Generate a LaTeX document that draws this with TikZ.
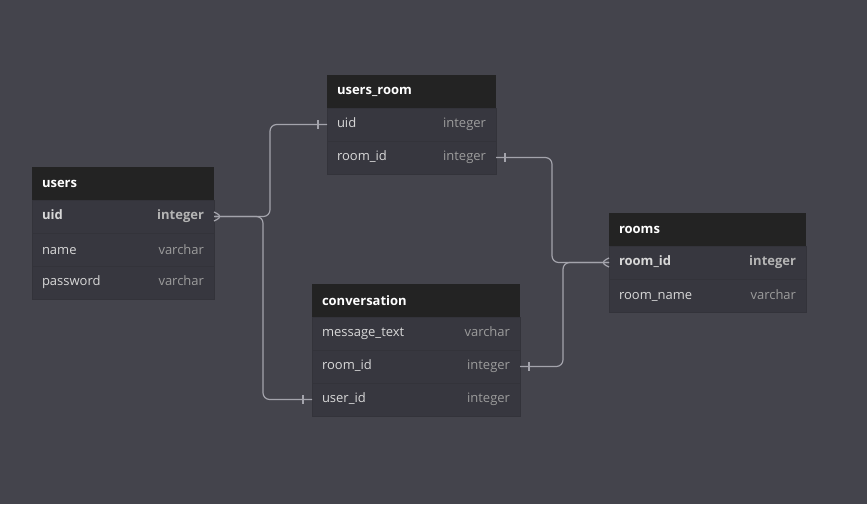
\documentclass[tikz,border=0pt]{standalone}
\usepackage{fontspec}
\setmainfont{Open Sans}
\usepackage{xcolor}
\definecolor{DiagBack}{HTML}{44444C}
\definecolor{HeadBack}{HTML}{232323}
\definecolor{RowBack}{HTML}{37373F}
\definecolor{RowLine}{HTML}{33333A}
\definecolor{ColName}{HTML}{D8D8D8}
\definecolor{ColType}{HTML}{9C9C9C}
\definecolor{KeyType}{HTML}{B4B4B4}
\definecolor{LinkGray}{HTML}{A4A4AC}
\usepackage{tikz}
\usetikzlibrary{positioning}

\begin{document}
\begin{tikzpicture}[x=0.75pt,y=-0.75pt,
	tblhead/.style={anchor=north west,fill=HeadBack,text=white,font=\fontsize{9.75}{11}\selectfont\bfseries,
		text width=#1,minimum height=24.75pt,inner xsep=7.5pt,inner ysep=0pt,outer sep=0pt},
	tblrow/.style={fill=RowBack,draw=RowLine,line width=0.6pt,font=\fontsize{9.75}{11}\selectfont,
		text width=#1,minimum height=24.75pt,inner xsep=7.5pt,inner ysep=0pt,outer sep=0pt},
	keyrow/.style={tblrow=#1,font=\fontsize{9.75}{11}\selectfont\bfseries},
	link/.style={draw=LinkGray,line width=0.9pt,rounded corners=5pt},
	one/.pic={\draw[link] (-9,-4.5) -- (-9,4.5);},
	many/.pic={\draw[link] (0,-4.5) -- (9,0) -- (0,4.5);}
	]
	% background, fixes the page size
	\fill[DiagBack] (0,0) rectangle (867,504);
	\useasboundingbox (0,0) rectangle (867,504);
	
	% users
	\node[tblhead=121.5pt] (users) at (32,167) {users};
	\node[keyrow=121.5pt,below=0pt of users] (users-uid) {\color{ColName}uid\hfill\color{KeyType}integer};
	\node[tblrow=121.5pt,below=0pt of users-uid] (users-name) {\color{ColName}name\hfill\color{ColType}varchar};
	\node[tblrow=121.5pt,below=0pt of users-name] (users-pw) {\color{ColName}password\hfill\color{ColType}varchar};
	
	% users_room
	\node[tblhead=111.75pt] (usersroom) at (327,75) {users\_room};
	\node[tblrow=111.75pt,below=0pt of usersroom] (usersroom-uid) {\color{ColName}uid\hfill\color{ColType}integer};
	\node[tblrow=111.75pt,below=0pt of usersroom-uid] (usersroom-rid) {\color{ColName}room\_id\hfill\color{ColType}integer};
	
	% conversation
	\node[tblhead=141pt] (conv) at (312,284) {conversation};
	\node[tblrow=141pt,below=0pt of conv] (conv-msg) {\color{ColName}message\_text\hfill\color{ColType}varchar};
	\node[tblrow=141pt,below=0pt of conv-msg] (conv-rid) {\color{ColName}room\_id\hfill\color{ColType}integer};
	\node[tblrow=141pt,below=0pt of conv-rid] (conv-uid) {\color{ColName}user\_id\hfill\color{ColType}integer};
	
	% rooms
	\node[tblhead=132.75pt] (rooms) at (609,213) {rooms};
	\node[keyrow=132.75pt,below=0pt of rooms] (rooms-rid) {\color{ColName}room\_id\hfill\color{KeyType}integer};
	\node[tblrow=132.75pt,below=0pt of rooms-rid] (rooms-name) {\color{ColName}room\_name\hfill\color{ColType}varchar};
	
	% relations
	\draw[link] (users-uid.east) -- ++(56,0) |- (usersroom-uid.west);
	\draw[link] (users-uid.east) -- ++(49,0) |- (conv-uid.west);
	\draw[link] (usersroom-rid.east) -- ++(56,0) |- (rooms-rid.west);
	\draw[link] (conv-rid.east) -- ++(43,0) |- (rooms-rid.west);
	
	\pic at (users-uid.east) {many};
	\pic[xscale=-1] at (rooms-rid.west) {many};
	\pic at (usersroom-uid.west) {one};
	\pic at (conv-uid.west) {one};
	\pic[xscale=-1] at (usersroom-rid.east) {one};
	\pic[xscale=-1] at (conv-rid.east) {one};
	
\end{tikzpicture}
\end{document}
